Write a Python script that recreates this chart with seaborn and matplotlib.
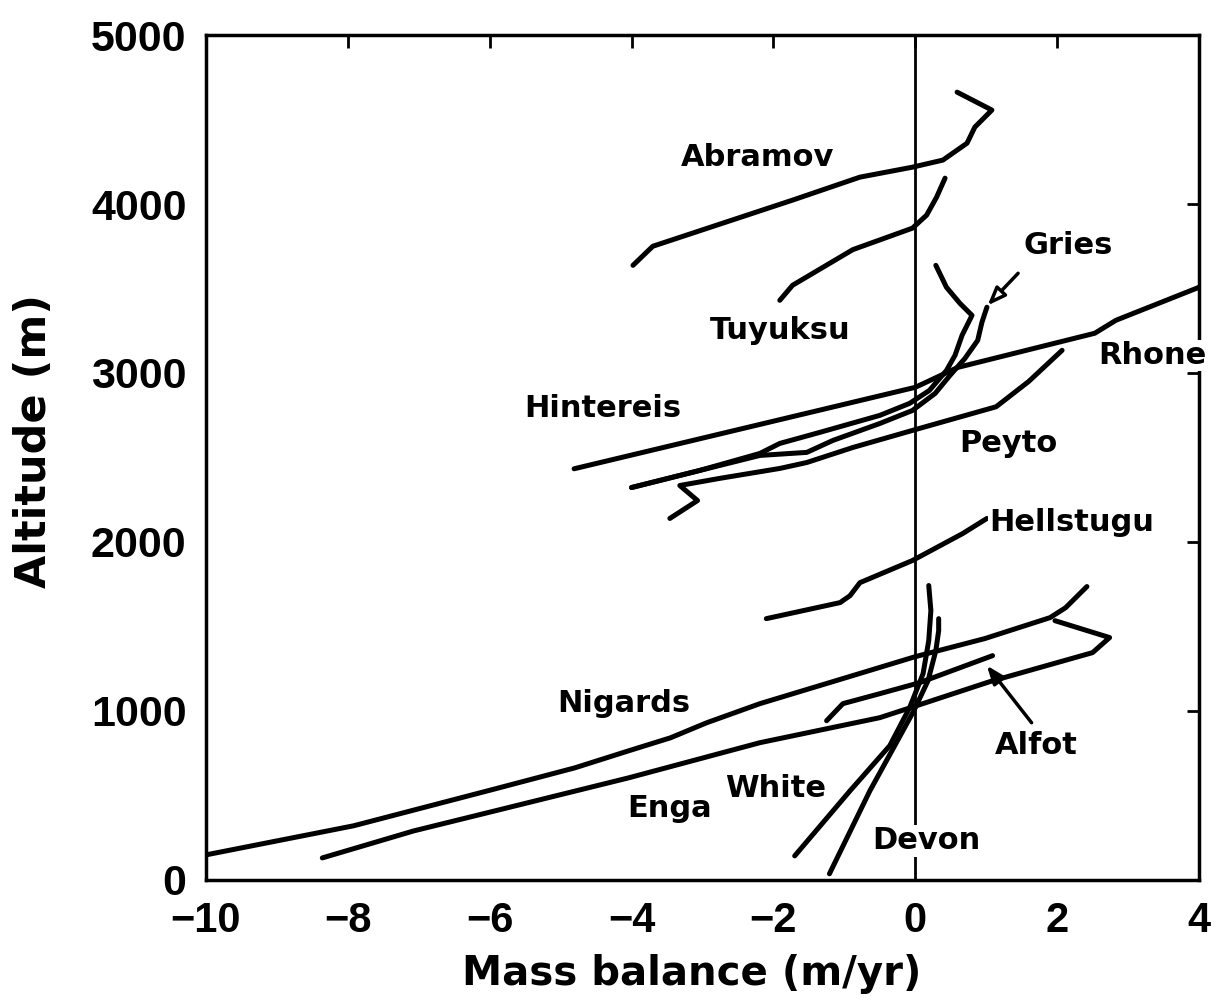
import matplotlib
matplotlib.use("Agg")
import matplotlib.pyplot as plt
from matplotlib import font_manager
import numpy as np
import pandas as pd
import seaborn as sns

# Mass-balance profiles: balance (m/yr) against altitude (m)
ABRAMOV_MB = [-3.98, -3.70, -1.73, -0.78, -0.04, 0.39, 0.73, 0.84, 1.08, 0.59]
ABRAMOV_ALT = [3637, 3750, 4023, 4159, 4218, 4260, 4360, 4455, 4556, 4662]

TUYUKSU_MB = [-1.91, -1.73, -0.88, -0.04, 0.16, 0.30, 0.42]
TUYUKSU_ALT = [3430, 3519, 3730, 3857, 3934, 4040, 4153]

RHONE_MB = [-4.81, 0.00, 0.60, 2.53, 2.83, 4.00]
RHONE_ALT = [2433, 2915, 3033, 3235, 3312, 3507]

HINTEREIS_MB = [-4.00, -3.04, -2.19, -1.91, -1.35, -0.50, -0.08, 0.20, 0.44,
                0.56, 0.66, 0.80, 0.63, 0.44, 0.29]
HINTEREIS_ALT = [2322, 2423, 2524, 2583, 2648, 2749, 2820, 2897, 3015,
                 3104, 3223, 3341, 3412, 3507, 3637]

GRIES_MB = [-4.00, -3.04, -2.19, -1.53, -1.16, -0.50, -0.04, 0.28, 0.49,
            0.70, 0.88, 0.94, 1.01]
GRIES_ALT = [2322, 2423, 2512, 2530, 2601, 2701, 2778, 2879, 2986,
             3086, 3193, 3300, 3389]

PEYTO_MB = [-3.46, -3.07, -3.32, -2.76, -1.91, -1.53, -0.88, -0.04, 1.14, 1.60, 2.07]
PEYTO_ALT = [2139, 2245, 2334, 2376, 2435, 2470, 2559, 2660, 2800, 2950, 3134]

HELLSTUGU_MB = [-2.10, -1.06, -0.92, -0.78, -0.04, 0.67, 1.01]
HELLSTUGU_ALT = [1546, 1641, 1682, 1759, 1890, 2050, 2139]

NIGARDS_MB = [-10.0, -7.92, -5.92, -4.80, -4.04, -3.45, -2.94, -2.19, -1.07,
              0.00, 0.98, 1.90, 2.12, 2.42]
NIGARDS_ALT = [148, 320, 539, 663, 764, 841, 930, 1043, 1185,
               1321, 1428, 1552, 1611, 1736]

ENGA_MB = [-8.36, -7.07, -5.92, -4.04, -2.19, -0.50, 0.02, 1.05, 2.50, 2.74, 1.97]
ENGA_ALT = [130, 290, 409, 604, 812, 960, 1031, 1173, 1345, 1434, 1534]

ALFOT_MB = [-1.25, -1.02, -0.50, 0.06, 1.09]
ALFOT_ALT = [942, 1043, 1102, 1167, 1327]

WHITE_MB = [-1.70, -0.92, -0.36, -0.08, 0.11, 0.19, 0.22, 0.19]
WHITE_ALT = [142, 527, 794, 1019, 1220, 1416, 1594, 1742]

DEVON_MB = [-1.21, -0.64, -0.29, -0.02, 0.18, 0.29, 0.33, 0.33]
DEVON_ALT = [36, 527, 794, 1001, 1179, 1357, 1475, 1546]

GLACIERS = {
    "Abramov": (ABRAMOV_MB, ABRAMOV_ALT),
    "Tuyuksu": (TUYUKSU_MB, TUYUKSU_ALT),
    "Rhone": (RHONE_MB, RHONE_ALT),
    "Hintereis": (HINTEREIS_MB, HINTEREIS_ALT),
    "Gries": (GRIES_MB, GRIES_ALT),
    "Peyto": (PEYTO_MB, PEYTO_ALT),
    "Hellstugu": (HELLSTUGU_MB, HELLSTUGU_ALT),
    "Nigards": (NIGARDS_MB, NIGARDS_ALT),
    "Enga": (ENGA_MB, ENGA_ALT),
    "Alfot": (ALFOT_MB, ALFOT_ALT),
    "White": (WHITE_MB, WHITE_ALT),
    "Devon": (DEVON_MB, DEVON_ALT),
}

# Name labels placed next to each profile
LABEL_NAMES = ["Abramov", "Tuyuksu", "Gries", "Rhone", "Hintereis", "Peyto",
               "Hellstugu", "Nigards", "Alfot", "White", "Enga", "Devon"]
LABEL_X = [-2.22, -1.91, 2.15, 3.34, -4.41, 1.31, 2.21, -4.11, 1.71, -1.97, -3.47, 0.15]
LABEL_Y = [4277, 3252, 3756, 3104, 2790, 2583, 2115, 1043, 794, 540, 421, 231]

# Pointer arrows: (tail, head)
ARROWS = {
    "Gries": ((1.45, 3590), (1.02, 3400)),
    "Alfot": ((1.64, 930), (1.01, 1268)),
}

X_TICKS = [-10, -8, -6, -4, -2, 0, 2, 4]
Y_TICKS = [0, 1000, 2000, 3000, 4000, 5000]

rows = []
for name, (mb, alt) in GLACIERS.items():
    for i, (m, a) in enumerate(zip(mb, alt)):
        rows.append({"glacier": name, "order": i, "mb": m, "alt": a})
df = pd.DataFrame(rows)

sns.set_theme(style="white")
plt.rcParams["font.family"] = ["DejaVu Sans"]
for key in ("text.color", "axes.labelcolor", "xtick.color", "ytick.color",
            "axes.edgecolor"):
    plt.rcParams[key] = "black"

avail = {f.name for f in font_manager.fontManager.ttflist}
if "Liberation Sans Narrow" in avail:
    lab_family, lab_size = "Liberation Sans Narrow", 30
elif "DejaVu Sans Condensed" in avail:
    lab_family, lab_size = "DejaVu Sans Condensed", 24
else:
    lab_family, lab_size = "DejaVu Sans", 22
tick_family = "Liberation Sans" if "Liberation Sans" in avail else "DejaVu Sans"

fig, ax = plt.subplots(figsize=(12.16, 10.01), dpi=100)
fig.subplots_adjust(left=0.1694, right=0.986, bottom=0.121, top=0.965)

ax.axvline(0, color="black", lw=2.0, zorder=1.8)

sns.lineplot(data=df, x="mb", y="alt", units="glacier", estimator=None,
             sort=False, color="black", lw=3.6, ax=ax, zorder=2,
             solid_capstyle="round", solid_joinstyle="round")

for name, x, y in zip(LABEL_NAMES, LABEL_X, LABEL_Y):
    ax.text(x, y, name, ha="center", va="center", fontsize=lab_size,
            fontweight="bold", family=lab_family, color="black", zorder=6,
            clip_on=False,
            bbox=dict(facecolor="white", edgecolor="none", pad=0.8))

for name, (tail, head) in ARROWS.items():
    fc = "white" if name == "Gries" else "black"
    ax.annotate("", xy=head, xytext=tail, zorder=5,
                arrowprops=dict(arrowstyle="-|>,head_length=0.9,head_width=0.35",
                                lw=2.5, fc=fc, ec="black", shrinkA=0, shrinkB=0))

ax.set_xlim(-10, 4)
ax.set_ylim(0, 5000)
ax.set_xticks(X_TICKS)
ax.set_yticks(Y_TICKS)
ax.set_xticklabels([f"{t}".replace("-", "\u2212") for t in X_TICKS],
                   fontsize=30, fontweight="bold", family=tick_family,
                   color="black")
ax.set_yticklabels([str(t) for t in Y_TICKS],
                   fontsize=31, fontweight="bold", family=tick_family,
                   color="black")
ax.tick_params(axis="both", which="major", direction="in", length=9, width=2,
               color="black", top=True, right=True)
ax.tick_params(axis="x", pad=15)
ax.tick_params(axis="y", pad=14)

for sp in ax.spines.values():
    sp.set_visible(True)
    sp.set_color("black")
    sp.set_linewidth(2.5)

ax.set_xlabel("Mass balance (m/yr)", fontsize=29, fontweight="heavy",
              family="DejaVu Sans", color="black")
ax.set_ylabel("Altitude (m)", fontsize=31, fontweight="heavy",
              family="DejaVu Sans", color="black")
ax.xaxis.set_label_coords(0.489, -0.088)
ax.yaxis.set_label_coords(-0.152, 0.52)

ax.grid(False)
ax.set_facecolor("white")
fig.patch.set_facecolor("white")

fig.savefig("out.png", dpi=100)
